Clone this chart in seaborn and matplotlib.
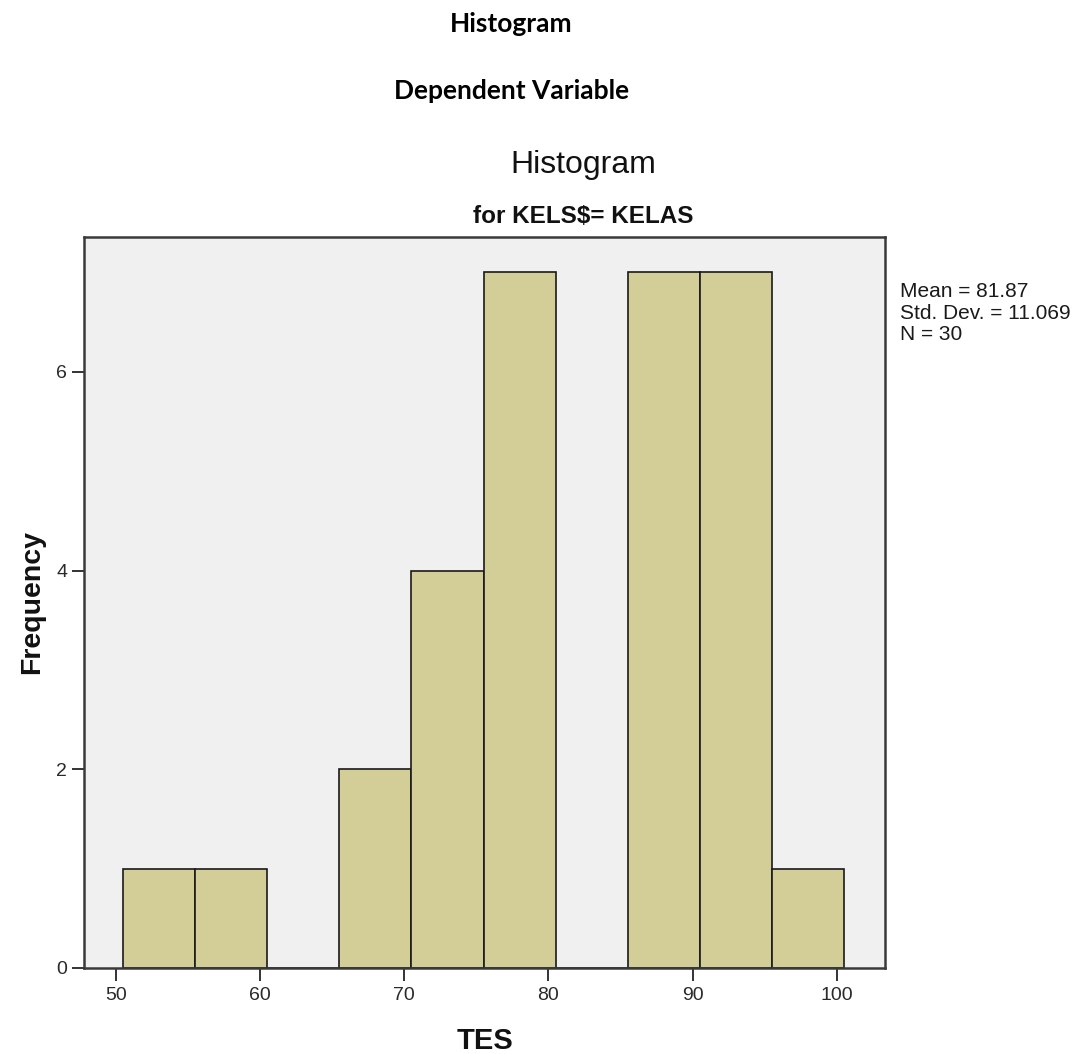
import matplotlib
matplotlib.use("Agg")
import matplotlib.pyplot as plt
import seaborn as sns
import numpy as np

# Data
bin_edges = [50.5, 55.5, 60.5, 65.5, 70.5, 75.5, 80.5, 85.5, 90.5, 95.5, 100.5]
bin_centers = [53, 58, 63, 68, 73, 78, 83, 88, 93, 98]
counts = [1, 1, 0, 2, 4, 7, 0, 7, 7, 1]
x_ticks = [50, 60, 70, 80, 90, 100]
y_ticks = [0, 2, 4, 6]
stats_lines = ["Mean = 81.87", "Std. Dev. = 11.069", "N = 30"]

sns.set_theme(style="white")
plt.rcParams['font.family'] = ['Liberation Sans', 'DejaVu Sans']

W, H = 1079, 1054
fig = plt.figure(figsize=(W / 100, H / 100), dpi=100)
ax = fig.add_axes([84 / W, 1 - 968 / H, (885 - 84) / W, (968 - 236.7) / H])
ax.set_facecolor("#F0F0F0")

sns.histplot(x=bin_centers, weights=counts, bins=bin_edges, ax=ax,
             color="#D3CE97", alpha=1.0, edgecolor="#1a1a1a", linewidth=1.2)

ax.set_xlim(47.78, 103.35)
ax.set_ylim(0, 7.36)
ax.set_xticks(x_ticks)
ax.set_yticks(y_ticks)
ax.tick_params(axis='both', direction='out', length=9, width=1.4, color="#333333",
               labelsize=14, labelcolor="#2a2a2a", bottom=True, left=True)
ax.tick_params(axis='x', pad=5)
ax.tick_params(axis='y', pad=3)
for s in ax.spines.values():
    s.set_color("#3a3a3a")
    s.set_linewidth(1.8)

ax.set_xlabel("TES", fontsize=21, fontweight='bold', va='baseline', color="#111111")
ax.xaxis.set_label_coords((485 - 84) / 801, (968 - 1049) / 731.3)
ax.set_ylabel("Frequency", fontsize=20.5, fontweight='bold', color="#111111")
ax.yaxis.set_label_coords((45 - 84) / 801, (968 - 602) / 731.3)

fig.text(511 / W, 1 - 32 / H, "Histogram", ha='center', va='baseline',
         fontsize=19, fontweight='bold', family=['Lato', 'DejaVu Sans'], color="#000000")
fig.text(512 / W, 1 - 99 / H, "Dependent Variable", ha='center', va='baseline',
         fontsize=19, fontweight='bold', family=['Lato', 'DejaVu Sans'], color="#000000")
fig.text(583 / W, 1 - 173 / H, "Histogram", ha='center', va='baseline',
         fontsize=23, color="#111111")
fig.text(583 / W, 1 - 223 / H, "for KELS$= KELAS", ha='center', va='baseline',
         fontsize=17.5, fontweight='bold', color="#111111")
for line, yb in zip(stats_lines, [297, 319, 340]):
    fig.text(900 / W, 1 - yb / H, line, ha='left', va='baseline',
             fontsize=15, color="#1a1a1a")

fig.savefig("out.png", dpi=100)
